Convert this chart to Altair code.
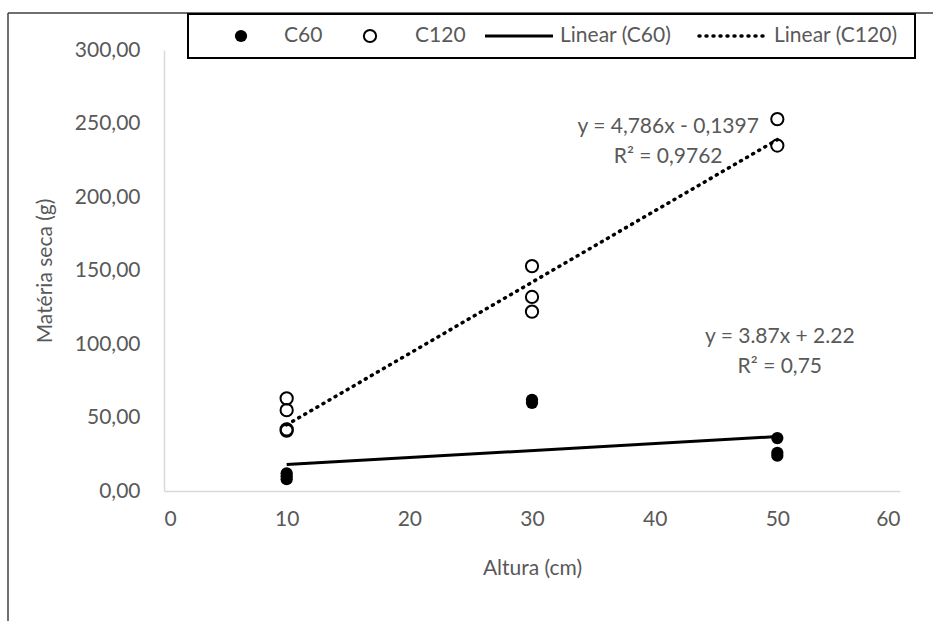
import altair as alt
import pandas as pd

# ---- data ----
altura_c60 = [10, 10, 10, 30, 30, 50, 50, 50]
ms_c60 = [12, 10, 8, 62, 60, 36, 26, 24]
altura_c120 = [10, 10, 10, 10, 30, 30, 30, 50, 50]
ms_c120 = [63, 55, 42, 41, 153, 132, 122, 253, 235]

trend_x = [10, 50]
trend_c60 = [18, 37]
trend_c120 = [45, 239]

eq_c120_text = ["y = 4,786x - 0,1397", "R² = 0,9762"]
eq_c120_x = [41.1, 41.1]
eq_c120_y = [247.5, 227.5]
eq_c60_text = ["y = 3.87x + 2.22", "R² = 0,75"]
eq_c60_x = [50.2, 50.2]
eq_c60_y = [104.5, 84.5]

x_ticks = [0, 10, 20, 30, 40, 50, 60]
y_ticks = [0, 50, 100, 150, 200, 250, 300]

legend_labels = ["C60", "C120", "Linear (C60)", "Linear (C120)"]

FONT = "Lato"
FS = 21
GREY = "#595959"
AXIS = "#d9d9d9"

df60 = pd.DataFrame({"x": altura_c60, "y": ms_c60})
df120 = pd.DataFrame({"x": altura_c120, "y": ms_c120})
tr60 = pd.DataFrame({"x": trend_x, "y": trend_c60})
tr120 = pd.DataFrame({"x": trend_x, "y": trend_c120})
eq120 = pd.DataFrame({"x": eq_c120_x, "y": eq_c120_y, "t": eq_c120_text})
eq60 = pd.DataFrame({"x": eq_c60_x, "y": eq_c60_y, "t": eq_c60_text})

xs = alt.Scale(domain=[0, 60], nice=False, zero=False)
ys = alt.Scale(domain=[0, 300], nice=False)

xaxis = alt.Axis(values=x_ticks, title="Altura (cm)", grid=False, ticks=False,
                 domainColor=AXIS, domainWidth=1.5, labelColor=GREY, labelFont=FONT,
                 labelFontSize=FS, labelPadding=17, titleColor=GREY, titleFont=FONT,
                 titleFontSize=FS, titleFontWeight="normal", titleY=77,
                 titleBaseline="middle")
yaxis = alt.Axis(values=y_ticks, title="Matéria seca (g)", grid=False, ticks=False,
                 domainColor=AXIS, domainWidth=1.5, labelColor=GREY, labelFont=FONT,
                 labelFontSize=FS, labelPadding=24,
                 labelExpr="replace(format(datum.value, '.2f'), '.', ',')",
                 titleColor=GREY, titleFont=FONT, titleFontSize=FS,
                 titleFontWeight="normal", titleX=-119, titleY=220.5,
                 titleAngle=-90, titleAlign="center", titleBaseline="middle")

line120 = alt.Chart(tr120).mark_line(color="black", strokeWidth=3.5,
                                      strokeDash=[1, 6], strokeCap="round").encode(
    x=alt.X("x:Q", scale=xs, axis=xaxis), y=alt.Y("y:Q", scale=ys, axis=yaxis))
line60 = alt.Chart(tr60).mark_line(color="black", strokeWidth=3).encode(
    x=alt.X("x:Q", scale=xs), y=alt.Y("y:Q", scale=ys))

pts120 = alt.Chart(df120).mark_point(shape="circle", filled=False, color="black",
                                     strokeWidth=2, size=150, opacity=1).encode(
    x=alt.X("x:Q", scale=xs), y=alt.Y("y:Q", scale=ys))
pts60 = alt.Chart(df60).mark_point(shape="circle", filled=True, color="black",
                                   size=150, opacity=1).encode(
    x=alt.X("x:Q", scale=xs), y=alt.Y("y:Q", scale=ys))

t120 = alt.Chart(eq120).mark_text(align="center", baseline="middle", font=FONT,
                                  fontSize=FS, color=GREY).encode(
    x=alt.X("x:Q", scale=xs), y=alt.Y("y:Q", scale=ys), text="t:N")
t60 = alt.Chart(eq60).mark_text(align="center", baseline="middle", font=FONT,
                                fontSize=FS, color=GREY).encode(
    x=alt.X("x:Q", scale=xs), y=alt.Y("y:Q", scale=ys), text="t:N")

# ---- frame and legend (decoration, pixel positions relative to plot origin) ----
one = pd.DataFrame({"k": [0]})
frame_left = alt.Chart(one).mark_rule(color="#404040", strokeWidth=1.5).encode(
    x=alt.value(-156), y=alt.value(-37), y2=alt.value(571))
frame_top = alt.Chart(one).mark_rule(color="#404040", strokeWidth=1.5).encode(
    x=alt.value(-156), x2=alt.value(769), y=alt.value(-37))
legend_box = alt.Chart(one).mark_rect(fill="white", stroke="black", strokeWidth=2).encode(
    x=alt.value(24), x2=alt.value(751), y=alt.value(-36), y2=alt.value(8))

LY = -14
leg_dot = alt.Chart(one).mark_point(shape="circle", filled=True, color="black",
                                    size=150, opacity=1).encode(
    x=alt.value(77), y=alt.value(LY))
leg_circ = alt.Chart(one).mark_point(shape="circle", filled=False, color="black",
                                     strokeWidth=2, size=150, opacity=1).encode(
    x=alt.value(206), y=alt.value(LY))
leg_line = alt.Chart(one).mark_rule(color="black", strokeWidth=3).encode(
    x=alt.value(321), x2=alt.value(389), y=alt.value(LY))
leg_dots = alt.Chart(one).mark_rule(color="black", strokeWidth=3.5, strokeDash=[1, 6],
                                    strokeCap="round").encode(
    x=alt.value(535), x2=alt.value(601), y=alt.value(LY))

legend_x = [120, 251, 396, 610]
leg_text_layers = []
for lx, lab in zip(legend_x, legend_labels):
    leg_text_layers.append(
        alt.Chart(one).mark_text(align="left", baseline="middle", font=FONT,
                                 fontSize=FS, color=GREY, text=lab).encode(
            x=alt.value(lx), y=alt.value(LY)))

chart = alt.layer(
    line120, line60, pts120, pts60, t120, t60,
    frame_left, frame_top, legend_box, leg_dot, leg_circ, leg_line, leg_dots,
    *leg_text_layers
).properties(
    width=736, height=441,
    autosize=alt.AutoSizeParams(type="none"),
    padding={"left": 164, "top": 50, "right": 33, "bottom": 130},
    background="white",
).configure_view(stroke=None, clip=False)

chart.save("out.html", embed_options={"renderer": "svg", "actions": False})
